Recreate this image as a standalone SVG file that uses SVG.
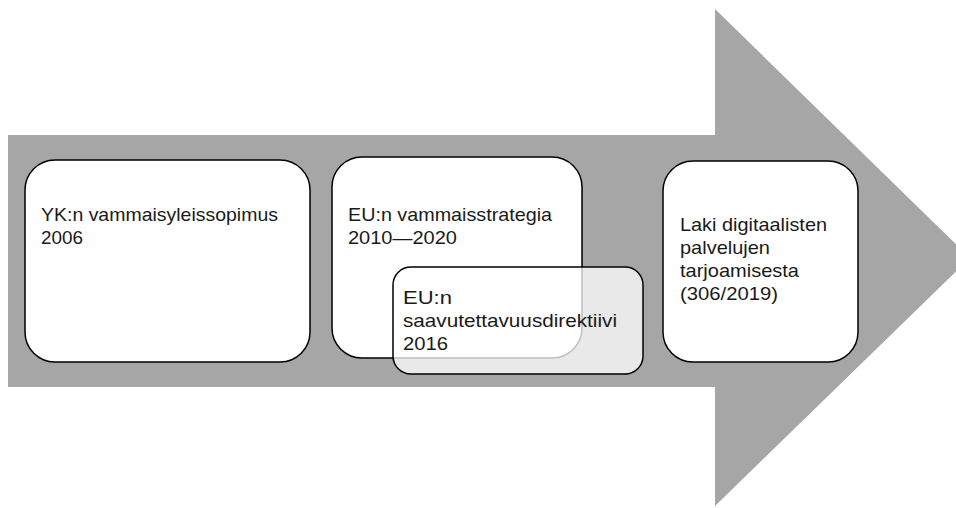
<svg xmlns="http://www.w3.org/2000/svg" width="956" height="508" viewBox="0 0 956 508">
<style>
.box{fill:#ffffff;stroke:#000000;stroke-width:1.5}
.ov{fill:#ffffff;fill-opacity:0.75;stroke:#000000;stroke-width:1.5}
.t{font-family:"Liberation Sans",Arial,sans-serif;font-size:19px;fill:#1a1a1a}
</style>
<rect width="956" height="508" fill="#ffffff"/>
<g id="arrow">
<polygon points="8,135 715,135 715,9 970,258 715,506 715,387 8,387" fill="#a6a6a6"/>
</g>
<g id="connectors"></g>
<g id="node-yk">
<rect class="box" x="25" y="160" width="285" height="202" rx="30" ry="30"/>
<text class="t"><tspan x="41" y="221" textLength="237" lengthAdjust="spacingAndGlyphs">YK:n vammaisyleissopimus</tspan><tspan x="41" y="244" textLength="42" lengthAdjust="spacingAndGlyphs">2006</tspan></text>
</g>
<g id="node-eu-strategy">
<rect class="box" x="332" y="157" width="250" height="201" rx="30" ry="30"/>
<text class="t"><tspan x="348" y="221" textLength="204" lengthAdjust="spacingAndGlyphs">EU:n vammaisstrategia</tspan><tspan x="348" y="244" textLength="109" lengthAdjust="spacingAndGlyphs">2010—2020</tspan></text>
</g>
<g id="node-eu-directive">
<rect class="ov" x="393" y="267" width="250" height="107" rx="18" ry="18"/>
<text class="t"><tspan x="403" y="304" textLength="49" lengthAdjust="spacingAndGlyphs">EU:n</tspan><tspan x="403" y="327" textLength="214" lengthAdjust="spacingAndGlyphs">saavutettavuusdirektiivi</tspan><tspan x="403" y="350" textLength="45" lengthAdjust="spacingAndGlyphs">2016</tspan></text>
</g>
<g id="node-law">
<rect class="box" x="663" y="161" width="195" height="201" rx="30" ry="30"/>
<text class="t"><tspan x="680" y="231" textLength="147" lengthAdjust="spacingAndGlyphs">Laki digitaalisten</tspan><tspan x="680" y="254" textLength="90" lengthAdjust="spacingAndGlyphs">palvelujen</tspan><tspan x="680" y="277" textLength="119" lengthAdjust="spacingAndGlyphs">tarjoamisesta</tspan><tspan x="680" y="300" textLength="98" lengthAdjust="spacingAndGlyphs">(306/2019)</tspan></text>
</g>
</svg>
